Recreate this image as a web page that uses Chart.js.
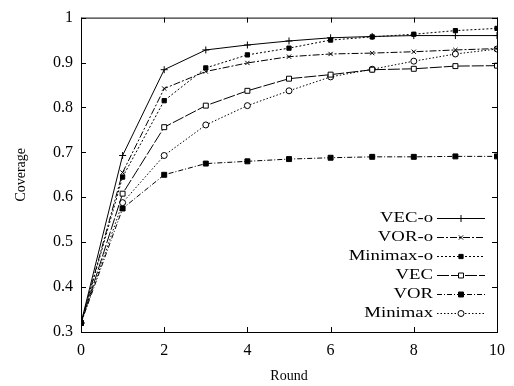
<!DOCTYPE html>
<html>
<head>
<meta charset="utf-8">
<script src="https://cdn.jsdelivr.net/npm/chart.js@4/dist/chart.umd.min.js"></script>
<style>
  html, body { margin: 0; padding: 0; background: #fff; }
  #wrap { width: 514px; height: 386px; }
</style>
</head>
<body>
<div id="wrap"><canvas id="coverageChart" width="514" height="386"></canvas></div>
<script>
// Coverage per round
const rounds = [0, 1, 2, 3, 4, 5, 6, 7, 8, 9, 10];
const vecO     = [0.32, 0.693, 0.884, 0.928, 0.939, 0.948, 0.955, 0.958, 0.960, 0.960, 0.960];
const vorO     = [0.32, 0.655, 0.842, 0.880, 0.899, 0.913, 0.919, 0.921, 0.924, 0.928, 0.931];
const minimaxO = [0.32, 0.645, 0.815, 0.888, 0.917, 0.932, 0.950, 0.957, 0.963, 0.971, 0.976];
const vec      = [0.32, 0.608, 0.756, 0.804, 0.837, 0.864, 0.873, 0.884, 0.886, 0.892, 0.893];
const vor      = [0.32, 0.575, 0.650, 0.675, 0.680, 0.685, 0.688, 0.690, 0.690, 0.691, 0.691];
const minimax  = [0.32, 0.588, 0.693, 0.761, 0.804, 0.837, 0.868, 0.885, 0.903, 0.919, 0.930];
const yTicks = [0.3, 0.4, 0.5, 0.6, 0.7, 0.8, 0.9, 1];

const serif = '"Liberation Serif", "DejaVu Serif", serif';

function series(label, values, dash, pointStyle, fill, radius) {
    return {
        label: label,
        data: rounds.map((r, i) => ({ x: r, y: values[i] })),
        borderColor: '#000',
        borderWidth: 1,
        borderDash: dash,
        pointStyle: pointStyle,
        pointRadius: radius,
        pointBorderColor: '#000',
        pointBorderWidth: 1,
        pointBackgroundColor: fill,
        fill: false,
        tension: 0
    };
}

// Inward ticks on all four sides plus the closing box
const frame = {
    id: 'frame',
    afterDraw(chart) {
        const ctx = chart.ctx;
        const a = chart.chartArea;
        const xs = chart.scales.x;
        const ys = chart.scales.y;
        ctx.save();
        ctx.strokeStyle = '#000';
        ctx.lineWidth = 1;
        ctx.strokeRect(a.left + 0.5, a.top + 0.5, a.right - a.left, a.bottom - a.top);
        ctx.beginPath();
        xs.ticks.forEach(t => {
            const px = Math.round(xs.getPixelForValue(t.value)) + 0.5;
            ctx.moveTo(px, a.bottom); ctx.lineTo(px, a.bottom - 5);
            ctx.moveTo(px, a.top); ctx.lineTo(px, a.top + 5);
        });
        ys.ticks.forEach(t => {
            const py = Math.round(ys.getPixelForValue(t.value)) + 0.5;
            ctx.moveTo(a.left, py); ctx.lineTo(a.left + 5, py);
            ctx.moveTo(a.right, py); ctx.lineTo(a.right - 5, py);
        });
        ctx.stroke();
        ctx.restore();
    }
};

// Legend in the lower right corner: label, then line sample with marker
const keyBox = {
    id: 'keyBox',
    afterDraw(chart) {
        const ctx = chart.ctx;
        const a = chart.chartArea;
        const sampleRight = a.right - 12;
        const sampleLeft = sampleRight - 48;
        const textRight = sampleLeft - 4;
        chart.data.datasets.forEach((ds, i) => {
            const y = a.bottom - 114 + i * 19 + 0.5;
            // label text, a little wider than the plain face
            ctx.save();
            ctx.font = '15px ' + serif;
            ctx.textAlign = 'right';
            ctx.textBaseline = 'middle';
            ctx.fillStyle = '#000';
            ctx.translate(textRight, y);
            ctx.scale(1.25, 1);
            ctx.fillText(ds.label, 0, 0);
            ctx.restore();

            ctx.save();
            ctx.strokeStyle = '#000';
            ctx.lineWidth = 1;
            ctx.setLineDash(ds.borderDash);
            ctx.beginPath();
            ctx.moveTo(sampleLeft, y);
            ctx.lineTo(sampleRight, y);
            ctx.stroke();
            ctx.setLineDash([]);
            ctx.fillStyle = ds.pointBackgroundColor;
            Chart.helpers.drawPoint(ctx, {
                pointStyle: ds.pointStyle,
                radius: ds.pointRadius,
                rotation: 0,
                borderWidth: 1
            }, Math.round((sampleLeft + sampleRight) / 2), y);
            ctx.restore();
        });
    }
};

const chart = new Chart(document.getElementById('coverageChart').getContext('2d'), {
    type: 'line',
    data: {
        datasets: [
            series('VEC-o', vecO, [], 'cross', '#000', 3.5),
            series('VOR-o', vorO, [7, 2, 2, 2], 'crossRot', '#000', 3),
            series('Minimax-o', minimaxO, [2, 2], 'rect', '#000', 3),
            series('VEC', vec, [12, 2], 'rect', '#fff', 3.5),
            series('VOR', vor, [5, 2, 1, 2], 'rect', '#000', 3.5),
            series('Minimax', minimax, [1.5, 2], 'circle', '#fff', 3)
        ]
    },
    options: {
        responsive: false,
        animation: false,
        layout: { padding: { top: 13, right: 11, bottom: 0, left: 0 } },
        plugins: {
            legend: { display: false },
            tooltip: { enabled: false }
        },
        scales: {
            x: {
                type: 'linear',
                min: 0,
                max: 10,
                grid: { display: false, drawTicks: false },
                border: { display: false },
                ticks: {
                    stepSize: 2,
                    padding: 9,
                    color: '#000',
                    font: { family: serif, size: 16 }
                },
                title: {
                    display: true,
                    text: 'Round',
                    color: '#000',
                    font: { family: serif, size: 14 },
                    padding: { top: 0, bottom: 1 }
                },
                afterFit(scale) { scale.height = 54; }
            },
            y: {
                min: 0.3,
                max: 1,
                afterBuildTicks(scale) {
                    scale.ticks = yTicks.map(v => ({ value: v }));
                },
                grid: { display: false, drawTicks: false },
                border: { display: false },
                ticks: {
                    padding: 8,
                    color: '#000',
                    font: { family: serif, size: 16 },
                    callback: v => (v === 1 ? '1' : v.toFixed(1))
                },
                title: {
                    display: true,
                    text: 'Coverage',
                    color: '#000',
                    font: { family: serif, size: 14 },
                    padding: { top: 13, bottom: 0 }
                },
                afterFit(scale) { scale.width = 81; }
            }
        }
    },
    plugins: [frame, keyBox]
});
</script>
</body>
</html>
